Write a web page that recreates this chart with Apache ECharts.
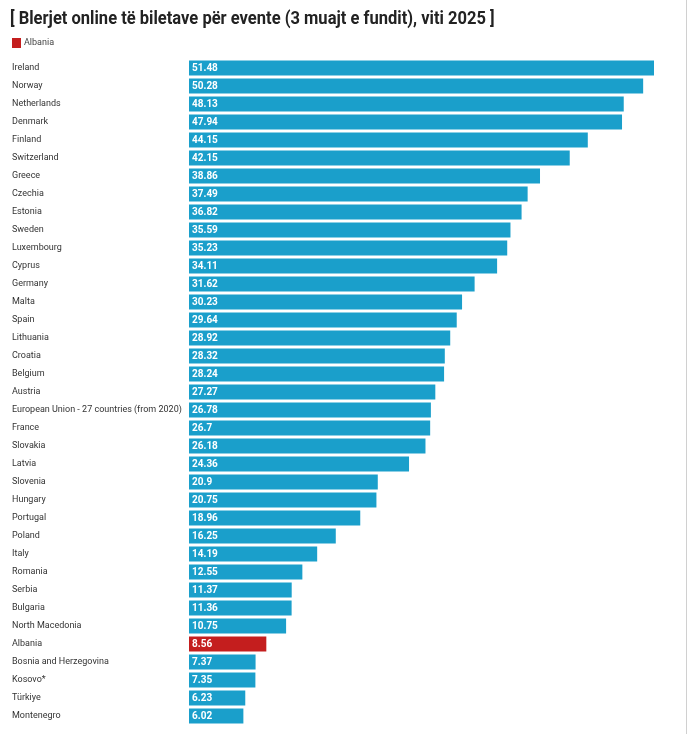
<!DOCTYPE html>
<html>
<head>
<meta charset="utf-8">
<script src="https://cdn.jsdelivr.net/npm/echarts@6/dist/echarts.min.js"></script>
<style>
    html, body { margin: 0; padding: 0; background: #fff; }
    #main { width: 694px; height: 734px; }
</style>
</head>
<body>
<div id="main"></div>
<script>
// 数据
var countries = ['Ireland', 'Norway', 'Netherlands', 'Denmark', 'Finland', 'Switzerland', 'Greece', 'Czechia',
    'Estonia', 'Sweden', 'Luxembourg', 'Cyprus', 'Germany', 'Malta', 'Spain', 'Lithuania', 'Croatia', 'Belgium',
    'Austria', 'European Union - 27 countries (from 2020)', 'France', 'Slovakia', 'Latvia', 'Slovenia', 'Hungary',
    'Portugal', 'Poland', 'Italy', 'Romania', 'Serbia', 'Bulgaria', 'North Macedonia', 'Albania',
    'Bosnia and Herzegovina', 'Kosovo*', 'Türkiye', 'Montenegro'];
var values = [51.48, 50.28, 48.13, 47.94, 44.15, 42.15, 38.86, 37.49, 36.82, 35.59, 35.23, 34.11, 31.62, 30.23,
    29.64, 28.92, 28.32, 28.24, 27.27, 26.78, 26.7, 26.18, 24.36, 20.9, 20.75, 18.96, 16.25, 14.19, 12.55, 11.37,
    11.36, 10.75, 8.56, 7.37, 7.35, 6.23, 6.02];
var highlight = 'Albania';

var blue = '#1a9fcb';
var red = '#c41e1e';

var chart = echarts.init(document.getElementById('main'));

var barData = values.map(function (v, i) {
    return {
        value: v,
        itemStyle: { color: countries[i] === highlight ? red : blue }
    };
});

var option = {
    backgroundColor: '#fff',
    animation: false,
    textStyle: { fontFamily: 'Roboto, sans-serif' },
    graphic: [
        {
            type: 'text',
            left: 10,
            top: 10,
            scaleX: 0.87,
            style: {
                text: '[ Blerjet online të biletave për evente (3 muajt e fundit), viti 2025 ]',
                fontSize: 19,
                fontWeight: 'bold',
                fontFamily: 'Roboto, sans-serif',
                fill: '#222'
            }
        },
        {
            type: 'rect',
            left: 12,
            top: 38,
            shape: { width: 9, height: 10 },
            style: { fill: red }
        },
        {
            type: 'text',
            left: 24,
            top: 38,
            style: { text: 'Albania', fontSize: 9, fill: '#444', fontFamily: 'Roboto, sans-serif' }
        },
        {
            type: 'line',
            shape: { x1: 686.5, y1: 0, x2: 686.5, y2: 734 },
            style: { stroke: '#d0d0d0', lineWidth: 1 }
        }
    ],
    grid: {
        left: 189,
        right: 40,
        top: 59,
        bottom: 9
    },
    xAxis: {
        type: 'value',
        min: 0,
        max: 51.48,
        show: false
    },
    yAxis: {
        type: 'category',
        data: countries,
        inverse: true,
        axisLine: { show: false },
        axisTick: { show: false },
        axisLabel: {
            align: 'left',
            margin: 177,
            fontSize: 9,
            color: '#333'
        }
    },
    series: [
        {
            type: 'bar',
            data: barData,
            barCategoryGap: '17%',
            label: {
                show: true,
                position: 'insideLeft',
                distance: 3,
                color: '#fff',
                fontWeight: 'bold',
                fontSize: 10
            }
        }
    ]
};

chart.setOption(option);
</script>
</body>
</html>
